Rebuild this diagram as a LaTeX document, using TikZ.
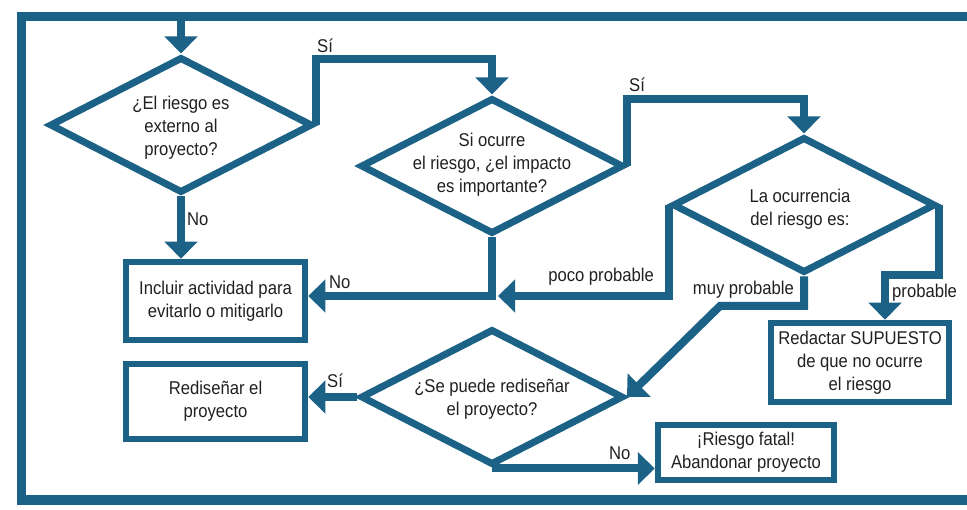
\documentclass[tikz,border=0pt]{standalone}
\usepackage{fontspec}
\setmainfont{Liberation Sans}[FakeStretch=0.9]
\usetikzlibrary{arrows.meta,shapes.geometric,calc}
\definecolor{flow}{RGB}{27,98,134}
\definecolor{ink}{RGB}{35,31,32}
\begin{document}
\begin{tikzpicture}[x=1pt,y=-1pt,
  dec/.style={diamond, draw=flow, line width=7pt, minimum width=263pt, minimum height=136pt, inner sep=0pt},
  act/.style={rectangle, draw=flow, line width=6.5pt, inner sep=0pt, align=center, text=ink, font=\fontsize{18.5}{23}\selectfont},
  txt/.style={align=center, text=ink, inner sep=0pt, font=\fontsize{18.5}{23}\selectfont},
  lab/.style={text=ink, inner sep=0pt, font=\fontsize{18.5}{23}\selectfont},
  conn/.style={draw=flow, line width=8pt},
  arr/.style={conn, -{Triangle[width=32pt,length=17pt]}},
  frame/.style={draw=flow, line width=9pt}
]
\useasboundingbox (0,0) rectangle (967,510);
% frame
\draw[frame] (985,17) -- (21,17) -- (21,500) -- (985,500);
% decisions
\node[dec] (d1) at (181,125) {};
\node[txt] (t1) at (181,128) {¿El riesgo es\\externo al\\proyecto?};
\node[dec] (d2) at (492,166) {};
\node[txt] (t2) at (492,165) {Si ocurre\\el riesgo, ¿el impacto\\es importante?};
\node[dec] (d3) at (804,205) {};
\node[txt] (t3) at (800,209) {La ocurrencia\\del riesgo es:};
\node[dec] (d4) at (492,397) {};
\node[txt] (t4) at (492,399) {¿Se puede rediseñar\\el proyecto?};
% actions
\node[act, minimum width=179pt, minimum height=78pt] (b1) at (215.5,301) {Incluir actividad para\\evitarlo o mitigarlo};
\node[act, minimum width=179pt, minimum height=75pt] (b2) at (215.5,401.5) {Rediseñar el\\proyecto};
\node[act, minimum width=178pt, minimum height=79pt] (b3) at (860,362.5) {Redactar SUPUESTO\\de que no ocurre\\el riesgo};
\node[act, minimum width=176pt, minimum height=55pt] (b4) at (746,452.5) {¡Riesgo fatal!\\Abandonar proyecto};
% helper coordinates
\coordinate (entry) at (181,17);
\coordinate (j1) at (492,296);
\coordinate (j2) at (498,296);
\coordinate (m1) at (720,306);
\coordinate (p1) at (885,275);
% connectors
\draw[arr] (entry) -- (d1.north);
\draw[arr] (d1.east) -- ++(0,-66) -| (d2.north);
\draw[arr] (d2.east) -- ++(0,-67) -| (d3.north);
\draw[arr] (d1.south) -- (d1.south |- b1.north);
\draw[arr] (d2.south) |- (b1.east |- j1);
\draw[arr] (d3.west) |- (j2);
\draw[arr] (d3.south) -- (d3.south |- m1) -- (m1) -- (d4.east);
\draw[arr] (d3.east) |- (p1) -- (p1 |- b3.north);
\draw[arr] (d4.west) -- (d4.west -| b2.east);
\draw[arr] (d4.south) -- (d4.south -| b4.west);
% labels
\node[lab, anchor=west] (l1) at (317,46) {Sí};
\node[lab, anchor=west] (l2) at (629,85) {Sí};
\node[lab, anchor=west] (l3) at (187,219) {No};
\node[lab, anchor=west] (l4) at (329,282) {No};
\node[lab, anchor=east] (l5) at (654,277) {poco probable};
\node[lab, anchor=east] (l6) at (794,290) {muy probable};
\node[lab, anchor=west] (l7) at (892,293) {probable};
\node[lab, anchor=west] (l8) at (327,381) {Sí};
\node[lab, anchor=west] (l9) at (609,453) {No};
\end{tikzpicture}
\end{document}
